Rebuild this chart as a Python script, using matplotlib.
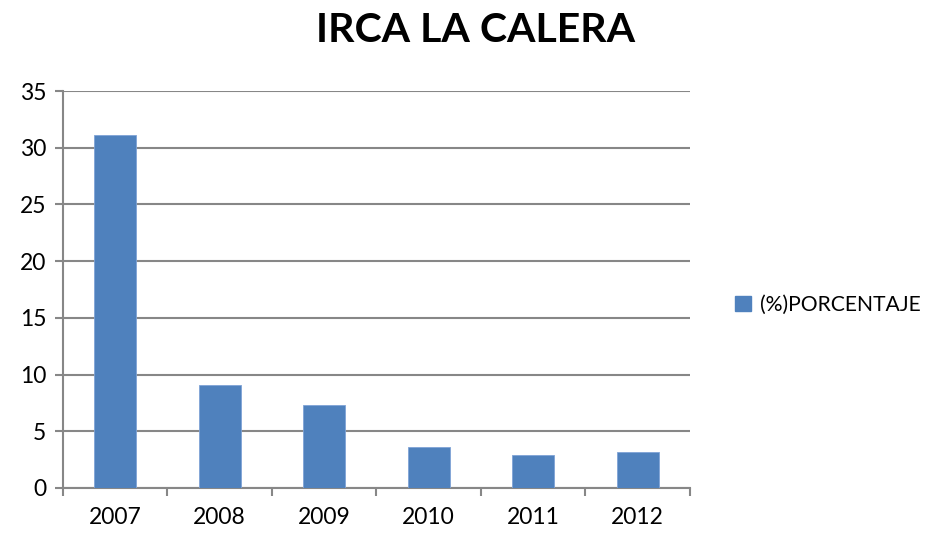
import matplotlib
matplotlib.use("Agg")
import matplotlib.pyplot as plt
from matplotlib.patches import Patch

years = ["2007", "2008", "2009", "2010", "2011", "2012"]
porcentaje = [31.1, 9.06, 7.36, 3.65, 2.95, 3.15]
series_name = "(%)PORCENTAJE"
title = "IRCA LA CALERA"

plt.rcParams['font.family'] = ['Lato', 'DejaVu Sans']

W, H = 929, 533
fig = plt.figure(figsize=(W/100, H/100), dpi=100)
ax = fig.add_axes([63/W, 1-488/H, (690-63)/W, (488-91)/H])

bar_color = "#4F81BD"
x = list(range(len(years)))
ax.bar(x, porcentaje, width=0.4, color=bar_color, edgecolor="#7FA3D6", linewidth=0.6, zorder=3)

ax.set_xlim(-0.5, len(years)-0.5)
ax.set_ylim(0, 35)
ax.set_yticks(range(0, 36, 5))
ax.set_xticks(x)
ax.set_xticklabels(years)
ax.set_xticks([i-0.5 for i in range(len(years)+1)], minor=True)

grid_c = "#878787"
ax.yaxis.grid(True, color=grid_c, linewidth=1.5, zorder=0)
for s in ["top", "right"]:
    ax.spines[s].set_visible(False)
for s in ["left", "bottom"]:
    ax.spines[s].set_color(grid_c)
    ax.spines[s].set_linewidth(1.5)

ax.tick_params(axis='y', length=6, width=1.5, color=grid_c, labelsize=16.5, pad=6)
ax.tick_params(axis='x', which='major', length=0, labelsize=16.5, pad=14)
ax.tick_params(axis='x', which='minor', length=6, width=1.5, color=grid_c)

fig.text(476/W, 1-31/H, title, ha='center', va='center', fontsize=29.5, fontweight='bold')

handles = [Patch(facecolor=bar_color, edgecolor=bar_color)]
fig.legend(handles, [series_name], loc='center left', bbox_to_anchor=(727/W, 1-305/H),
           frameon=False, fontsize=15.2, handlelength=0.75, handleheight=0.75,
           handletextpad=0.4, borderaxespad=0)

fig.savefig("out.png", dpi=100)
